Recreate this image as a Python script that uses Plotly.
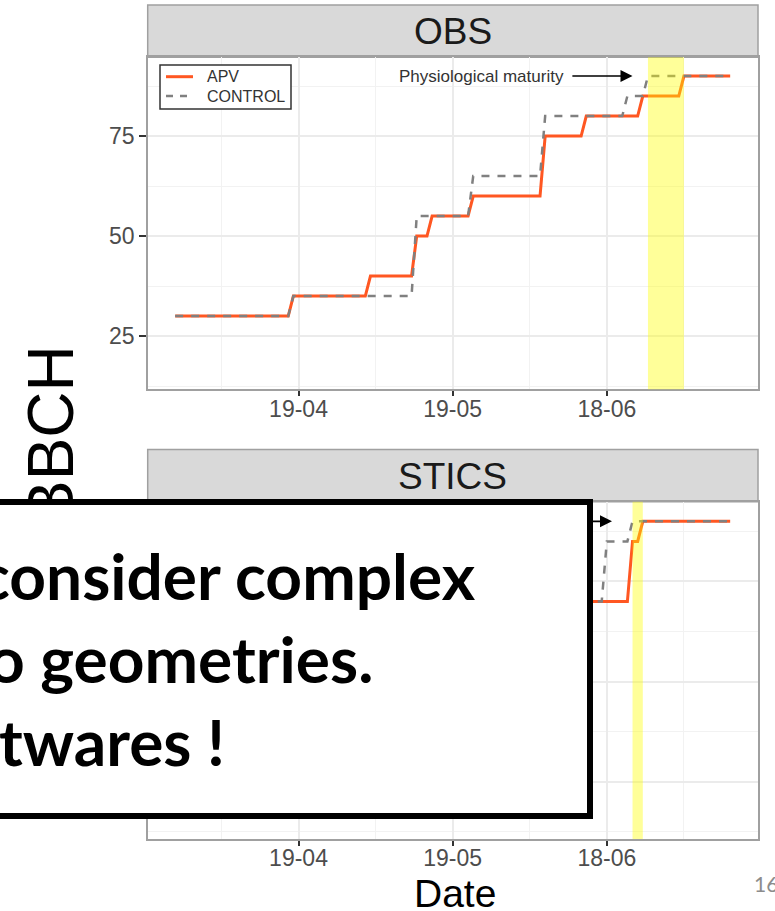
import plotly.graph_objects as go

W, H = 775, 911

# ---- BBCH stage series (step changes listed as last day / first day pairs) ----
obs_apv_dates = ["2019-03-26", "2019-04-17", "2019-04-18", "2019-05-02", "2019-05-03",
                 "2019-05-11", "2019-05-12", "2019-05-14", "2019-05-15", "2019-05-22",
                 "2019-05-23", "2019-06-05", "2019-06-06", "2019-06-13", "2019-06-14",
                 "2019-06-24", "2019-06-25", "2019-07-02", "2019-07-03", "2019-07-12"]
obs_apv_bbch = [30, 30, 35, 35, 40, 40, 50, 50, 55, 55, 60, 60, 75, 75, 80, 80, 85, 85, 90, 90]

obs_ctrl_dates = ["2019-03-26", "2019-04-17", "2019-04-18", "2019-05-11", "2019-05-12",
                  "2019-05-22", "2019-05-23", "2019-06-05", "2019-06-06", "2019-06-21",
                  "2019-06-22", "2019-06-25", "2019-06-26", "2019-07-12"]
obs_ctrl_bbch = [30, 30, 35, 35, 55, 55, 65, 65, 80, 80, 85, 85, 90, 90]

stics_apv_dates = ["2019-06-10", "2019-06-22", "2019-06-23", "2019-06-24", "2019-06-25", "2019-07-12"]
stics_apv_bbch = [70, 70, 85, 85, 90, 90]

stics_ctrl_dates = ["2019-06-10", "2019-06-17", "2019-06-18", "2019-06-22", "2019-06-23", "2019-07-12"]
stics_ctrl_bbch = [70, 70, 85, 85, 90, 90]

# physiological maturity windows (APV)
obs_maturity = ("2019-06-26", "2019-07-03")
stics_maturity = ("2019-06-23", "2019-06-25")

# arrows pointing at the control's maturity date
obs_arrow = ("2019-06-11", "2019-06-23")
stics_arrow = ("2019-06-07", "2019-06-19")

tick_dates = ["2019-04-19", "2019-05-19", "2019-06-18"]
tick_labels = ["19-04", "19-05", "18-06"]
minor_dates = ["2019-04-04", "2019-05-04", "2019-06-03", "2019-07-03"]
y_ticks = [25, 50, 75]
y_minor = [12.5, 37.5, 62.5, 87.5]

series_names = ["APV", "CONTROL"]

APV_COLOR = "#FF5722"
CTRL_COLOR = "#808080"
FONT = "Liberation Sans, Arial, sans-serif"


def px(x):
    return x / W


def py(y):
    return 1 - y / H


fig = go.Figure()

for xa, ya, d_apv, v_apv, d_ctrl, v_ctrl in [
    ("x", "y", obs_apv_dates, obs_apv_bbch, obs_ctrl_dates, obs_ctrl_bbch),
    ("x2", "y2", stics_apv_dates, stics_apv_bbch, stics_ctrl_dates, stics_ctrl_bbch),
]:
    fig.add_trace(go.Scatter(x=d_apv, y=v_apv, mode="lines", name=series_names[0],
                             line=dict(color=APV_COLOR, width=3),
                             xaxis=xa, yaxis=ya, showlegend=False))
    fig.add_trace(go.Scatter(x=d_ctrl, y=v_ctrl, mode="lines", name=series_names[1],
                             line=dict(color=CTRL_COLOR, width=2.5, dash="8px,8px"),
                             xaxis=xa, yaxis=ya, showlegend=False))

x_range = ["2019-03-20 17:00", "2019-07-17 10:00"]
common_x = dict(type="date", range=x_range, tickvals=tick_dates, ticktext=tick_labels,
                showgrid=True, gridcolor="#ebebeb", gridwidth=2,
                minor=dict(tickvals=minor_dates, showgrid=True, gridcolor="#f2f2f2",
                           gridwidth=1, ticks=""),
                showline=True, mirror=True, linecolor="#a0a0a0", linewidth=1.5,
                ticks="outside", ticklen=5, tickwidth=1.5, tickcolor="#333333",
                ticklabelstandoff=-7,
                tickfont=dict(family=FONT, size=23, color="#4d4d4d"), zeroline=False)
common_y = dict(tickvals=y_ticks, showgrid=True, gridcolor="#ebebeb", gridwidth=2,
                minor=dict(tickvals=y_minor, showgrid=True, gridcolor="#f2f2f2",
                           gridwidth=1, ticks=""),
                showline=True, mirror=True, linecolor="#a0a0a0", linewidth=1.5,
                ticks="outside", ticklen=7, tickwidth=1.5, tickcolor="#333333",
                tickfont=dict(family=FONT, size=23, color="#4d4d4d"), zeroline=False)

fig.update_layout(
    xaxis=dict(domain=[px(148), px(758)], anchor="y", **common_x),
    yaxis=dict(domain=[py(389.3), py(57.3)], anchor="x", range=[11.68, 94.68], **common_y),
    xaxis2=dict(domain=[px(148), px(758)], anchor="y2", **common_x),
    yaxis2=dict(domain=[py(839), py(501.7)], anchor="x2", range=[10.75, 94.9],
                showticklabels=False, **common_y),
)

shapes = []
# facet strips
for top, bottom in [(5, 57.3), (449.5, 501.7)]:
    shapes.append(dict(type="rect", xref="paper", yref="paper", x0=px(147.7), x1=px(758),
                       y0=py(bottom), y1=py(top), fillcolor="#d9d9d9",
                       line=dict(color="#a0a0a0", width=1.5), layer="below"))
# maturity bands
for xa, ya, (d0, d1) in [("x", "y", obs_maturity), ("x2", "y2", stics_maturity)]:
    shapes.append(dict(type="rect", xref=xa, yref=f"{ya} domain", x0=d0, x1=d1, y0=0, y1=1,
                       fillcolor="rgba(255,255,0,0.4)", line=dict(width=0), layer="above"))

# legend box with key samples (top panel)
shapes.append(dict(type="rect", xref="paper", yref="paper", x0=px(160), x1=px(291),
                   y0=py(109), y1=py(65), fillcolor="#ffffff",
                   line=dict(color="#333333", width=1.5), layer="above"))
shapes.append(dict(type="line", xref="paper", yref="paper", x0=px(166), x1=px(193),
                   y0=py(76.7), y1=py(76.7), line=dict(color=APV_COLOR, width=3), layer="above"))
shapes.append(dict(type="line", xref="paper", yref="paper", x0=px(166), x1=px(193),
                   y0=py(96), y1=py(96), line=dict(color=CTRL_COLOR, width=2.5, dash="7px,7px"),
                   layer="above"))

annotations = []
for name, yc in zip(series_names, [76.7, 96]):
    annotations.append(dict(text=name, xref="paper", yref="paper", x=px(205), y=py(yc),
                            xanchor="left", yanchor="middle", showarrow=False,
                            font=dict(family=FONT, size=16, color="#333333")))

for label, yc in [("OBS", 31.5), ("STICS", 476)]:
    annotations.append(dict(text=label, xref="paper", yref="paper", x=px(453), y=py(yc),
                            xanchor="center", yanchor="middle", showarrow=False,
                            font=dict(family=FONT, size=37, color="#1a1a1a")))

for xa, ya, (a0, a1) in [("x", "y", obs_arrow), ("x2", "y2", stics_arrow)]:
    annotations.append(dict(text="Physiological maturity", xref=xa, yref=ya,
                            x=a0, y=90, xanchor="right", yanchor="middle", xshift=-5,
                            showarrow=False, font=dict(family=FONT, size=17, color="#333333")))
    annotations.append(dict(text="", xref=xa, yref=ya, x=a1, y=90, axref=xa, ayref=ya,
                            ax=a0, ay=90, showarrow=True, arrowhead=2, arrowsize=1.5,
                            arrowwidth=1.6, arrowcolor="#000000", standoff=0, startstandoff=0))

# y-axis title
annotations.append(dict(text="BBCH", xref="paper", yref="paper", x=px(51), y=py(434),
                        xanchor="center", yanchor="middle", textangle=-90, showarrow=False,
                        font=dict(family=FONT, size=64, color="#000000")))

# callout box over the lower panel
annotations.append(dict(text=" ", xref="paper", yref="paper", x=px(593.3), y=py(499.3),
                        xanchor="right", yanchor="top", width=631, height=308,
                        bgcolor="#ffffff", bordercolor="#000000", borderwidth=6, borderpad=0,
                        showarrow=False))
BOX_FONT = dict(family="Lato, Carlito, sans-serif", size=64, color="#000000", weight="bold")
for line, right, base in [("consider complex", 478, 600),
                          ("o geometries.", 375, 683),
                          ("twares !", 227, 766)]:
    annotations.append(dict(text=line, xref="paper", yref="paper", x=px(right),
                            y=py(base - 24.8), xanchor="right", yanchor="middle",
                            showarrow=False, font=BOX_FONT))

annotations.append(dict(text="Date", xref="paper", yref="paper", x=px(454.5), y=py(893),
                        xanchor="center", yanchor="middle", showarrow=False,
                        font=dict(family=FONT, size=39, color="#000000")))
annotations.append(dict(text="16", xref="paper", yref="paper", x=px(752), y=py(883),
                        xanchor="left", yanchor="middle", showarrow=False,
                        font=dict(family="Lato, sans-serif", size=21, color="#8c8c8c")))

fig.update_layout(
    template="none",
    width=W, height=H, margin=dict(l=0, r=0, t=0, b=0),
    paper_bgcolor="#ffffff", plot_bgcolor="#ffffff",
    font=dict(family=FONT),
    shapes=shapes, annotations=annotations,
    showlegend=False,
)

fig.write_html("out.html")
